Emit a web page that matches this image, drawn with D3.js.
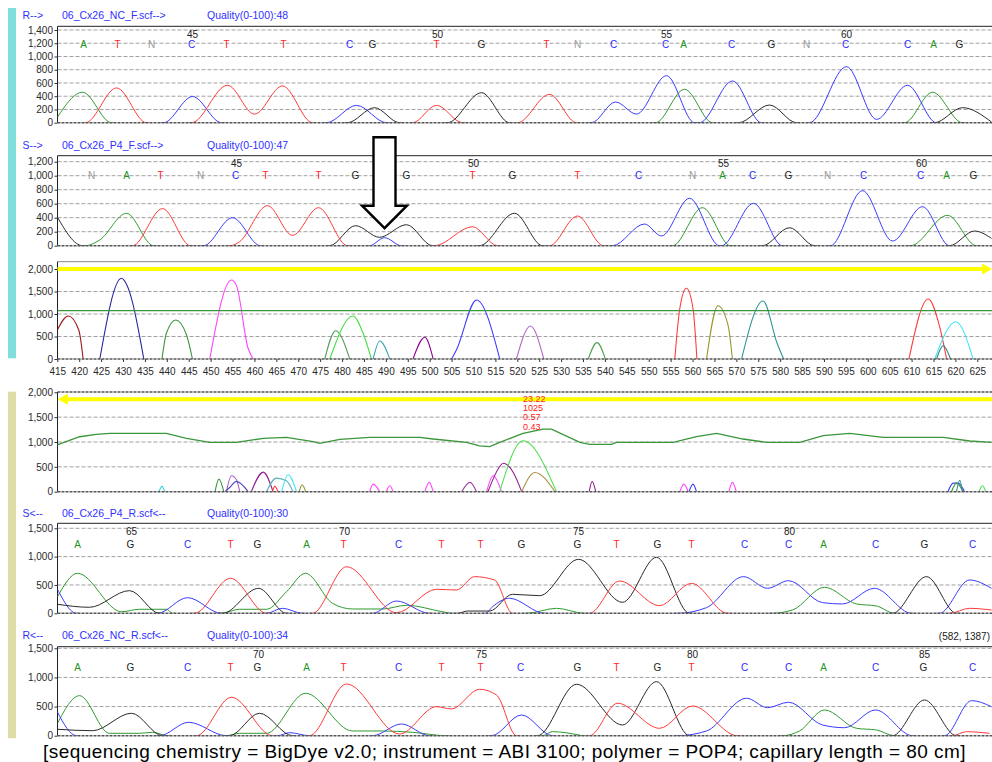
<!DOCTYPE html>
<html>
<head>
<meta charset="utf-8">
<script src="https://cdn.jsdelivr.net/npm/d3@7"></script>
<style>
  body { margin: 0; background: #fff; }
  svg { display: block; font-family: "Liberation Sans", Arial, sans-serif; }
</style>
</head>
<body>
<script>
// ===================== DATA =====================
// Trace positions are in scan units (0..934); fragment positions in bp.

// --- forward read, normal control ---
const ncFwdLabels = ["R-->", "06_Cx26_NC_F.scf-->", "Quality(0-100):48"];
const ncFwdBases = ["A","T","N","C","T","T","C","G","T","G","T","N","C","C","A","C","G","N","C","C","A","G"];
const ncFwdBaseScan = [26,60,94,134,169,226,292,315,379,424,489,520,556,608,626,674,714,749,788,850,876,902];
const ncFwdFirstBase = 42;
const ncFwdA = [[[0,85],[25,460],[54,0]], [[598,0],[627,505],[655,0]], [[847,0],[875,460],[905,0]]];
const ncFwdC = [[[106,0],[135,395],[164,0]], [[269,0],[299,262],[329,0]], [[534,0],[558,313],[579,130],[609,710],[637,0]], [[642,0],[675,630],[704,0]], [[752,0],[789,846],[819,50],[850,565],[879,0]]];
const ncFwdG = [[[290,0],[317,227],[342,0]], [[390,0],[424,453],[452,0]], [[681,0],[712,267],[739,0]], [[877,0],[905,227],[934,10]]];
const ncFwdT = [[[28,0],[59,525],[89,0]], [[134,0],[170,565],[197,130],[225,555],[255,0]], [[355,0],[379,262],[405,0]], [[460,0],[492,428],[519,0]]];

// --- forward read, patient sample ---
const p4FwdLabels = ["S-->", "06_Cx26_P4_F.scf-->", "Quality(0-100):47"];
const p4FwdBases = ["N","A","T","N","C","T","T","G","G","T","G","T","C","N","A","C","G","N","C","C","A","G"];
const p4FwdBaseScan = [34,69,103,143,178,208,261,298,349,415,455,520,581,635,665,695,731,770,806,863,889,916];
const p4FwdFirstBase = 41;
const p4FwdA = [[[28,0],[42,80],[69,463],[96,0]], [[615,0],[645,543],[673,0]], [[853,0],[890,434],[919,0]]];
const p4FwdC = [[[146,0],[175,400],[203,0]], [[312,0],[327,114],[344,0]], [[555,0],[587,310],[604,139],[632,677],[662,0]], [[664,0],[696,605],[725,0]], [[773,0],[805,786],[835,67],[865,557],[892,0]]];
const p4FwdG = [[[0,405],[25,0]], [[272,0],[298,286],[322,120],[349,300],[375,0]], [[422,0],[457,463],[485,0]], [[705,0],[732,257],[757,0]], [[892,0],[917,210],[934,105]]];
const p4FwdT = [[[75,0],[105,530],[133,0]], [[173,0],[182,57],[210,572],[235,148],[261,543],[290,0]], [[377,0],[415,271],[440,0]], [[492,0],[520,424],[546,0]]];
const p4FwdMarker = { scan: 327, value: 250 };

// --- fragment view, forward strand (bp, height) ---
const fragTicks = d3.range(415, 626, 5);
const fwdFragPeaks = [
  [[415.0,644],[417.5,955],[419.9,644],[420.9,0]],
  [[424.7,0],[429.65,1793],[430.8,1660],[434.75,0]],
  [[438.9,0],[439.9,571],[442.05,867],[444.5,533],[445.85,0]],
  [[449.8,0],[454.75,1756],[455.9,1630],[458.55,238],[459.7,0]],
  [[476.05,0],[478.55,629],[481.75,0]],
  [[477.2,0],[482.5,955],[484.8,571],[486.7,0]],
  [[487.1,0],[488.6,400],[490.9,0]],
  [[496.2,0],[498.9,482],[500.8,0]],
  [[505.0,0],[506.1,200],[510.7,1311],[516.0,0]],
  [[519.8,0],[523.0,733],[526.05,0]],
  [[536.2,0],[538.2,363],[540.1,0]],
  [[555.95,0],[557.1,1127],[558.6,1571],[560.1,1127],[561.0,0]],
  [[563.2,0],[565.8,1185],[568.1,755],[569.1,0]],
  [[571.2,0],[576.1,1289],[579.3,349],[580.8,0]],
  [[609.4,0],[613.8,1333],[616.4,718],[618.0,0]],
  [[615.3,0],[620.1,829],[624.05,0]],
  [[615.7,0],[617.2,296],[618.9,0]]
];
const fwdFragColors = ["#a01818","#2828a0","#3c963c","#ff44ff","#5a9e5a","#44e044","#3ca0b4","#900090","#3c3cff","#b060c8","#50a050","#ff3c3c","#98962a","#2e9696","#ff3c3c","#44e4f4","#2e8080"];
const fwdThreshold = 1075;
const fwdRangeLevel = 2000;

// --- fragment view, reverse strand ---
const revFragPeaks = [
  [[438.2,0],[438.9,107],[439.5,0]],
  [[451.0,0],[451.9,253],[453.0,0]],
  [[453.6,0],[454.75,320],[455.9,240],[456.65,0]],
  [[453.3,0],[454.4,90],[455.9,207],[458.55,0]],
  [[459.3,0],[462.0,393],[464.25,0]],
  [[464.1,0],[464.65,107],[465.4,0]],
  [[462.75,0],[465.0,273],[467.3,220],[468.8,0]],
  [[466.2,0],[467.7,340],[469.6,0]],
  [[470.2,0],[470.9,140],[471.7,0]],
  [[486.3,0],[487.1,153],[488.6,0]],
  [[490.1,0],[490.9,120],[491.65,0]],
  [[498.9,0],[499.9,187],[500.8,0]],
  [[507.3,0],[509.2,187],[510.7,0]],
  [[513.0,0],[514.5,320],[516.4,0]],
  [[513.3,0],[516.0,507],[516.75,573],[519.05,393],[521.0,0]],
  [[516.0,0],[521.3,1025],[528.95,0]],
  [[521.0,0],[524.0,387],[528.6,0]],
  [[536.4,0],[537.1,207],[537.9,0]],
  [[557.1,0],[558.0,153],[559.0,0]],
  [[559.2,0],[560.1,153],[560.9,0]],
  [[568.3,0],[569.1,187],[570.0,0]],
  [[618.3,0],[619.5,173],[620.6,173],[622.1,0]],
  [[619.1,0],[620.25,173],[621.75,0]],
  [[620.25,0],[621.0,227],[621.6,0]],
  [[625.4,0],[626.2,120],[626.95,0]]
];
const revFragColors = ["#30d0e0","#3c963c","#b060c8","#4848c0","#902090","#ff3c3c","#60b0b4","#44e4f4","#98962a","#ff44ff","#ff44ff","#ff44ff","#a040a0","#ff44ff","#902090","#50e050","#a89040","#902090","#ff44ff","#3c3cff","#ff44ff","#3c3cff","#3c963c","#2e9696","#50e050"];
const revQualityCurve = [[414.95,940],[420.1,1106],[423.9,1153],[427.0,1173],[439.9,1173],[444.5,1073],[449.8,993],[455.9,993],[462.0,1073],[467.3,1093],[473.4,1007],[474.9,973],[479.5,1053],[486.3,1093],[497.75,1093],[500.8,1060],[508.4,993],[511.4,920],[513.7,907],[516.0,993],[521.3,1173],[525.9,1260],[527.8,1260],[534.3,993],[536.5,953],[541.5,953],[542.6,993],[555.6,993],[560.9,1106],[565.5,1173],[571.5,1060],[576.9,993],[584.5,993],[589.8,1127],[595.9,1173],[603.5,1093],[617.2,1093],[623.3,1020],[628.3,993]];
const revRangeLevel = 1860;
const revNotePeak = 15;
const revNotes = ["23.22", "1025", "0.57", "0.43"];

// --- reverse read, patient sample ---
const p4RevLabels = ["S<--", "06_Cx26_P4_R.scf<--", "Quality(0-100):30"];
const p4RevBases = ["A","G","C","T","G","A","T","C","T","T","G","G","T","G","T","C","C","A","C","G","C"];
const p4RevBaseScan = [20,73,130,173,200,249,286,341,384,423,464,520,559,600,634,687,731,766,818,867,915];
const p4RevFirstBase = 64;
const p4RevA = [[[0,293],[20,706],[64,28],[82,71],[109,71],[115,0]], [[164,0],[182,71],[209,71],[229,381],[248,706],[275,176],[295,76],[325,76],[349,141],[385,28],[395,0]], [[469,0],[499,88],[527,0]], [[714,0],[735,58],[767,459],[799,165],[819,129],[837,0]]];
const p4RevC = [[[0,424],[19,0]], [[100,0],[130,276],[164,0]], [[209,0],[225,88],[245,0]], [[315,0],[339,217],[372,0]], [[428,0],[435,116],[452,265],[487,0]], [[620,0],[649,100],[686,647],[710,441],[731,576],[765,188],[785,165],[817,441],[854,0]], [[882,0],[912,588],[934,441]]];
const p4RevG = [[[0,159],[32,106],[72,400],[102,0]], [[165,0],[201,441],[229,0]], [[400,0],[410,40],[432,40],[455,335],[482,311],[521,953],[565,194],[599,988],[632,0]], [[835,0],[869,647],[899,0]]];
const p4RevT = [[[137,0],[173,618],[209,0]], [[255,0],[289,822],[339,10],[379,424],[399,411],[417,647],[437,588],[455,0]], [[532,0],[562,570],[602,135],[634,529],[670,0]], [[892,0],[912,88],[934,58]]];

// --- reverse read, normal control ---
const ncRevLabels = ["R<--", "06_Cx26_NC_R.scf<--", "Quality(0-100):34"];
const ncRevBases = ["A","G","C","T","G","A","T","C","T","T","C","G","T","G","T","C","C","A","C","G","C"];
const ncRevBaseScan = [20,73,130,173,200,249,286,341,384,423,463,520,559,600,634,687,731,766,818,866,915];
const ncRevFirstBase = 66;
const ncRevA = [[[0,213],[22,687],[52,41],[82,41],[95,58],[110,0]], [[169,0],[182,41],[209,41],[248,728],[295,81],[325,81],[355,58],[389,0]], [[485,0],[495,69],[522,10],[525,0]], [[725,0],[742,81],[767,442],[799,127],[819,98],[837,0]]];
const ncRevC = [[[0,402],[19,0]], [[102,0],[131,230],[169,0]], [[220,0],[232,52],[252,0]], [[315,0],[344,201],[372,0]], [[434,0],[464,356],[495,0]], [[620,0],[649,81],[689,643],[710,481],[731,574],[765,184],[787,137],[818,442],[855,0]], [[887,0],[914,601],[934,498]]];
const ncRevG = [[[0,110],[35,86],[74,385],[105,0]], [[172,0],[202,385],[235,0]], [[480,0],[519,883],[565,184],[599,928],[632,0]], [[835,0],[867,613],[899,0]]];
const ncRevT = [[[139,0],[174,660],[215,0]], [[252,0],[289,888],[342,29],[379,498],[394,459],[422,797],[439,699],[459,0]], [[532,0],[560,557],[602,127],[635,510],[680,0]], [[895,0],[909,69],[932,41]]];
const cursorReadout = "(582, 1387)";

const caption = "[sequencing chemistry = BigDye v2.0; instrument = ABI 3100; polymer = POP4; capillary length = 80 cm]";

// ===================== STYLE =====================
const W = 992, H = 762;
const X0 = 57.5, X1 = 992;
const baseColor = { A: "#1e961e", C: "#2a2aff", G: "#222222", T: "#ff2828", N: "#9a9a9a" };
const traceColor = { A: "#2f9a2f", C: "#3a3aff", G: "#2a2a2a", T: "#ff3a3a" };
const headerColor = "#3030ff";

const svg = d3.select("body").append("svg").attr("width", W).attr("height", H);

// side bars marking forward / reverse groups
svg.append("rect").attr("x", 8).attr("y", 8).attr("width", 8).attr("height", 350.3).attr("fill", "#80dedd");
svg.append("rect").attr("x", 8).attr("y", 391.7).attr("width", 8).attr("height", 346.5).attr("fill", "#dfdda6");

let clipId = 0;
function clipRect(g, x, y, w, h) {
  const id = "clip" + (clipId++);
  svg.append("clipPath").attr("id", id).append("rect").attr("x", x).attr("y", y).attr("width", w).attr("height", h);
  return g.append("g").attr("clip-path", `url(#${id})`);
}

function yAxis(g, y, ticks) {
  const ax = g.append("g").attr("transform", `translate(${X0},0)`)
    .call(d3.axisLeft(y).tickValues(ticks).tickFormat(d3.format(",")).tickSize(3).tickPadding(1.5));
  ax.select(".domain").remove();
  ax.selectAll("line").attr("stroke", "#333");
  ax.selectAll("text").attr("fill", "#2a2a2a").style("font-size", "10px")
    .style("font-family", "'Liberation Sans', Arial, sans-serif");
}

function grid(g, y, vals) {
  g.selectAll(null).data(vals).join("line")
    .attr("x1", X0).attr("x2", X1).attr("y1", d => y(d)).attr("y2", d => y(d))
    .attr("stroke", "#a0a0a0").attr("stroke-dasharray", "4,2").attr("stroke-width", 1);
}

function baseline(g, yPix) {
  g.append("line").attr("x1", X0).attr("x2", X1).attr("y1", yPix).attr("y2", yPix)
    .attr("stroke", "#555").attr("stroke-width", 1.4).attr("stroke-dasharray", "3,1");
}

function header(labels, yc) {
  const xs = [22.5, 62, 207];
  svg.selectAll(null).data(labels).join("text")
    .attr("x", (d, i) => xs[i]).attr("y", yc).attr("dy", "0.35em")
    .attr("fill", headerColor).style("font-size", "10.5px").text(d => d);
}

// padded so the curve leaves and rejoins the baseline with zero slope
function padSeg(seg) {
  const out = seg.slice();
  if (seg[0][1] === 0) out.unshift([seg[0][0] - 3, 0]);
  if (seg[seg.length - 1][1] === 0) out.push([seg[seg.length - 1][0] + 3, 0]);
  return out;
}

function tracePanel(p) {
  const g = svg.append("g");
  const x = d3.scaleLinear().domain([0, 934.5]).range([X0, X1]);
  const y = d3.scaleLinear().domain([0, p.yMax]).range([p.zero, p.maxPx]);
  header(p.labels, p.headY);
  grid(g, y, p.ticks.filter(v => v > 0));
  // frame
  g.append("line").attr("x1", X0).attr("x2", X1).attr("y1", p.top).attr("y2", p.top).attr("stroke", "#222");
  g.append("line").attr("x1", X0).attr("x2", X0).attr("y1", p.top).attr("y2", p.zero).attr("stroke", "#222");
  yAxis(g, y, p.ticks);
  // base calls and numbering
  g.selectAll(null).data(p.bases).join("text")
    .attr("x", (d, i) => x(p.baseScan[i])).attr("y", p.letY).attr("dy", "0.35em")
    .attr("text-anchor", "middle").attr("fill", d => baseColor[d]).style("font-size", "10px").text(d => d);
  const nums = p.bases.map((d, i) => ({ n: p.firstBase + i, s: p.baseScan[i] })).filter(d => d.n % 5 === 0);
  g.selectAll(null).data(nums).join("text")
    .attr("x", d => x(d.s) + 1).attr("y", p.numY).attr("dy", "0.35em")
    .attr("text-anchor", "middle").attr("fill", "#222").style("font-size", "10px").text(d => d.n);
  // traces
  const area = clipRect(g, X0, p.top, X1 - X0, p.zero - p.top);
  const line = d3.line().x(d => x(d[0])).y(d => y(d[1])).curve(d3.curveMonotoneX);
  ["A", "C", "G", "T"].forEach(b => {
    p.traces[b].forEach(seg => {
      area.append("path").attr("d", line(padSeg(seg))).attr("fill", "none")
        .attr("stroke", traceColor[b]).attr("stroke-width", 1);
    });
  });
  baseline(g, p.zero);
  return { g, x, y };
}

// ---- trace panels ----
tracePanel({ labels: ncFwdLabels, headY: 15, top: 26.3, zero: 122.7, maxPx: 30, yMax: 1400,
  ticks: d3.range(0, 1401, 200), numY: 34, letY: 44, bases: ncFwdBases, baseScan: ncFwdBaseScan,
  firstBase: ncFwdFirstBase, traces: { A: ncFwdA, C: ncFwdC, G: ncFwdG, T: ncFwdT } });

const p2 = tracePanel({ labels: p4FwdLabels, headY: 145, top: 155.7, zero: 245.7, maxPx: 161.7, yMax: 1200,
  ticks: d3.range(0, 1201, 200), numY: 163, letY: 175.7, bases: p4FwdBases, baseScan: p4FwdBaseScan,
  firstBase: p4FwdFirstBase, traces: { A: p4FwdA, C: p4FwdC, G: p4FwdG, T: p4FwdT } });

// hollow arrow pointing at the minor peak
{
  const tx = p2.x(p4FwdMarker.scan), ty = p2.y(p4FwdMarker.value);
  const hw = 11, hh = 22.5, hl = 22.5, len = 91;
  const pts = [[tx, ty], [tx - hh, ty - hl], [tx - hw, ty - hl], [tx - hw, ty - len], [tx + hw, ty - len], [tx + hw, ty - hl], [tx + hh, ty - hl]];
  svg.append("polygon").attr("points", pts.map(d => d.join(",")).join(" "))
    .attr("fill", "#fff").attr("stroke", "#000").attr("stroke-width", 2.4).attr("stroke-linejoin", "miter");
}

tracePanel({ labels: p4RevLabels, headY: 513.3, top: 523.3, zero: 613.3, maxPx: 528.3, yMax: 1500,
  ticks: [0, 500, 1000, 1500], numY: 531, letY: 544.3, bases: p4RevBases, baseScan: p4RevBaseScan,
  firstBase: p4RevFirstBase, traces: { A: p4RevA, C: p4RevC, G: p4RevG, T: p4RevT } });

tracePanel({ labels: ncRevLabels, headY: 635, top: 646.7, zero: 735.7, maxPx: 648.3, yMax: 1500,
  ticks: [0, 500, 1000, 1500], numY: 654, letY: 667.3, bases: ncRevBases, baseScan: ncRevBaseScan,
  firstBase: ncRevFirstBase, traces: { A: ncRevA, C: ncRevC, G: ncRevG, T: ncRevT } });

svg.append("text").attr("x", 990).attr("y", 636.7).attr("dy", "0.35em").attr("text-anchor", "end")
  .attr("fill", "#222").style("font-size", "10px").text(cursorReadout);

// ---- fragment panels ----
const fx = d3.scaleLinear().domain([415, 625]).range([57.3, 977.3]);

function fragPanel(p) {
  const g = svg.append("g");
  const y = d3.scaleLinear().domain([0, 2000]).range([p.zero, p.maxPx]);
  grid(g, y, [500, 1000, 1500]);
  if (p.topDashed) {
    g.append("line").attr("x1", X0).attr("x2", X1).attr("y1", p.top).attr("y2", p.top)
      .attr("stroke", "#555").attr("stroke-width", 1.4).attr("stroke-dasharray", "3,1");
  } else {
    g.append("line").attr("x1", X0).attr("x2", X1).attr("y1", p.top).attr("y2", p.top).attr("stroke", "#888");
  }
  g.append("line").attr("x1", X0).attr("x2", X0).attr("y1", p.top).attr("y2", p.zero).attr("stroke", "#222");
  yAxis(g, y, [0, 500, 1000, 1500, 2000]);
  const area = clipRect(g, X0, p.top, X1 - X0, p.zero - p.top);
  const line = d3.line().x(d => fx(d[0])).y(d => y(d[1])).curve(d3.curveMonotoneX);
  p.peaks.forEach((pk, i) => {
    area.append("path").attr("d", line(pk)).attr("fill", "none")
      .attr("stroke", p.colors[i]).attr("stroke-width", 1.1);
  });
  return { g, y, area };
}

// forward fragments with size axis
{
  const f = fragPanel({ top: 261.7, zero: 359, maxPx: 269, peaks: fwdFragPeaks, colors: fwdFragColors });
  f.g.append("line").attr("x1", X0).attr("x2", X1).attr("y1", f.y(fwdThreshold)).attr("y2", f.y(fwdThreshold))
    .attr("stroke", "#3a963a").attr("stroke-width", 1.3);
  const yy = f.y(fwdRangeLevel);
  f.g.append("line").attr("x1", X0).attr("x2", 984).attr("y1", yy).attr("y2", yy)
    .attr("stroke", "#ffff00").attr("stroke-width", 3.8);
  f.g.append("polygon").attr("points", `${X1},${yy} 982,${yy - 5.5} 982,${yy + 5.5}`).attr("fill", "#ffff00");
  const ax = f.g.append("g").attr("transform", "translate(0,359)")
    .call(d3.axisBottom(fx).tickValues(fragTicks).tickSize(3).tickPadding(6));
  ax.select(".domain").remove();
  ax.selectAll("line").attr("stroke", "#333");
  ax.selectAll("text").attr("fill", "#2a2a2a").style("font-size", "10px")
    .style("font-family", "'Liberation Sans', Arial, sans-serif");
  baseline(f.g, 359);
}

// reverse fragments
{
  const f = fragPanel({ top: 392, zero: 491.7, maxPx: 392.3, topDashed: true, peaks: revFragPeaks, colors: revFragColors });
  const qline = d3.line().x(d => fx(d[0])).y(d => f.y(d[1]));
  f.area.append("path").attr("d", qline(revQualityCurve)).attr("fill", "none")
    .attr("stroke", "#3a963a").attr("stroke-width", 1.3);
  const yy = f.y(revRangeLevel);
  f.g.append("line").attr("x1", 66).attr("x2", X1).attr("y1", yy).attr("y2", yy)
    .attr("stroke", "#ffff00").attr("stroke-width", 3.8);
  f.g.append("polygon").attr("points", `${X0},${yy} 68,${yy - 5.5} 68,${yy + 5.5}`).attr("fill", "#ffff00");
  const pk = revFragPeaks[revNotePeak];
  const top = pk.reduce((a, b) => (b[1] > a[1] ? b : a));
  const n = revNotes.length;
  f.g.selectAll(null).data(revNotes).join("text")
    .attr("x", fx(top[0])).attr("y", (d, i) => f.y(top[1]) - 14 - (n - 1 - i) * 9.45).attr("dy", "0.35em")
    .attr("fill", "#ff2020").style("font-size", "9px").text(d => d);
  baseline(f.g, 491.7);
}

// caption
svg.append("text").attr("x", 504.5).attr("y", 758).attr("text-anchor", "middle")
  .attr("fill", "#000").style("font-size", "19px").style("letter-spacing", "0.45px").text(caption);
</script>
</body>
</html>
